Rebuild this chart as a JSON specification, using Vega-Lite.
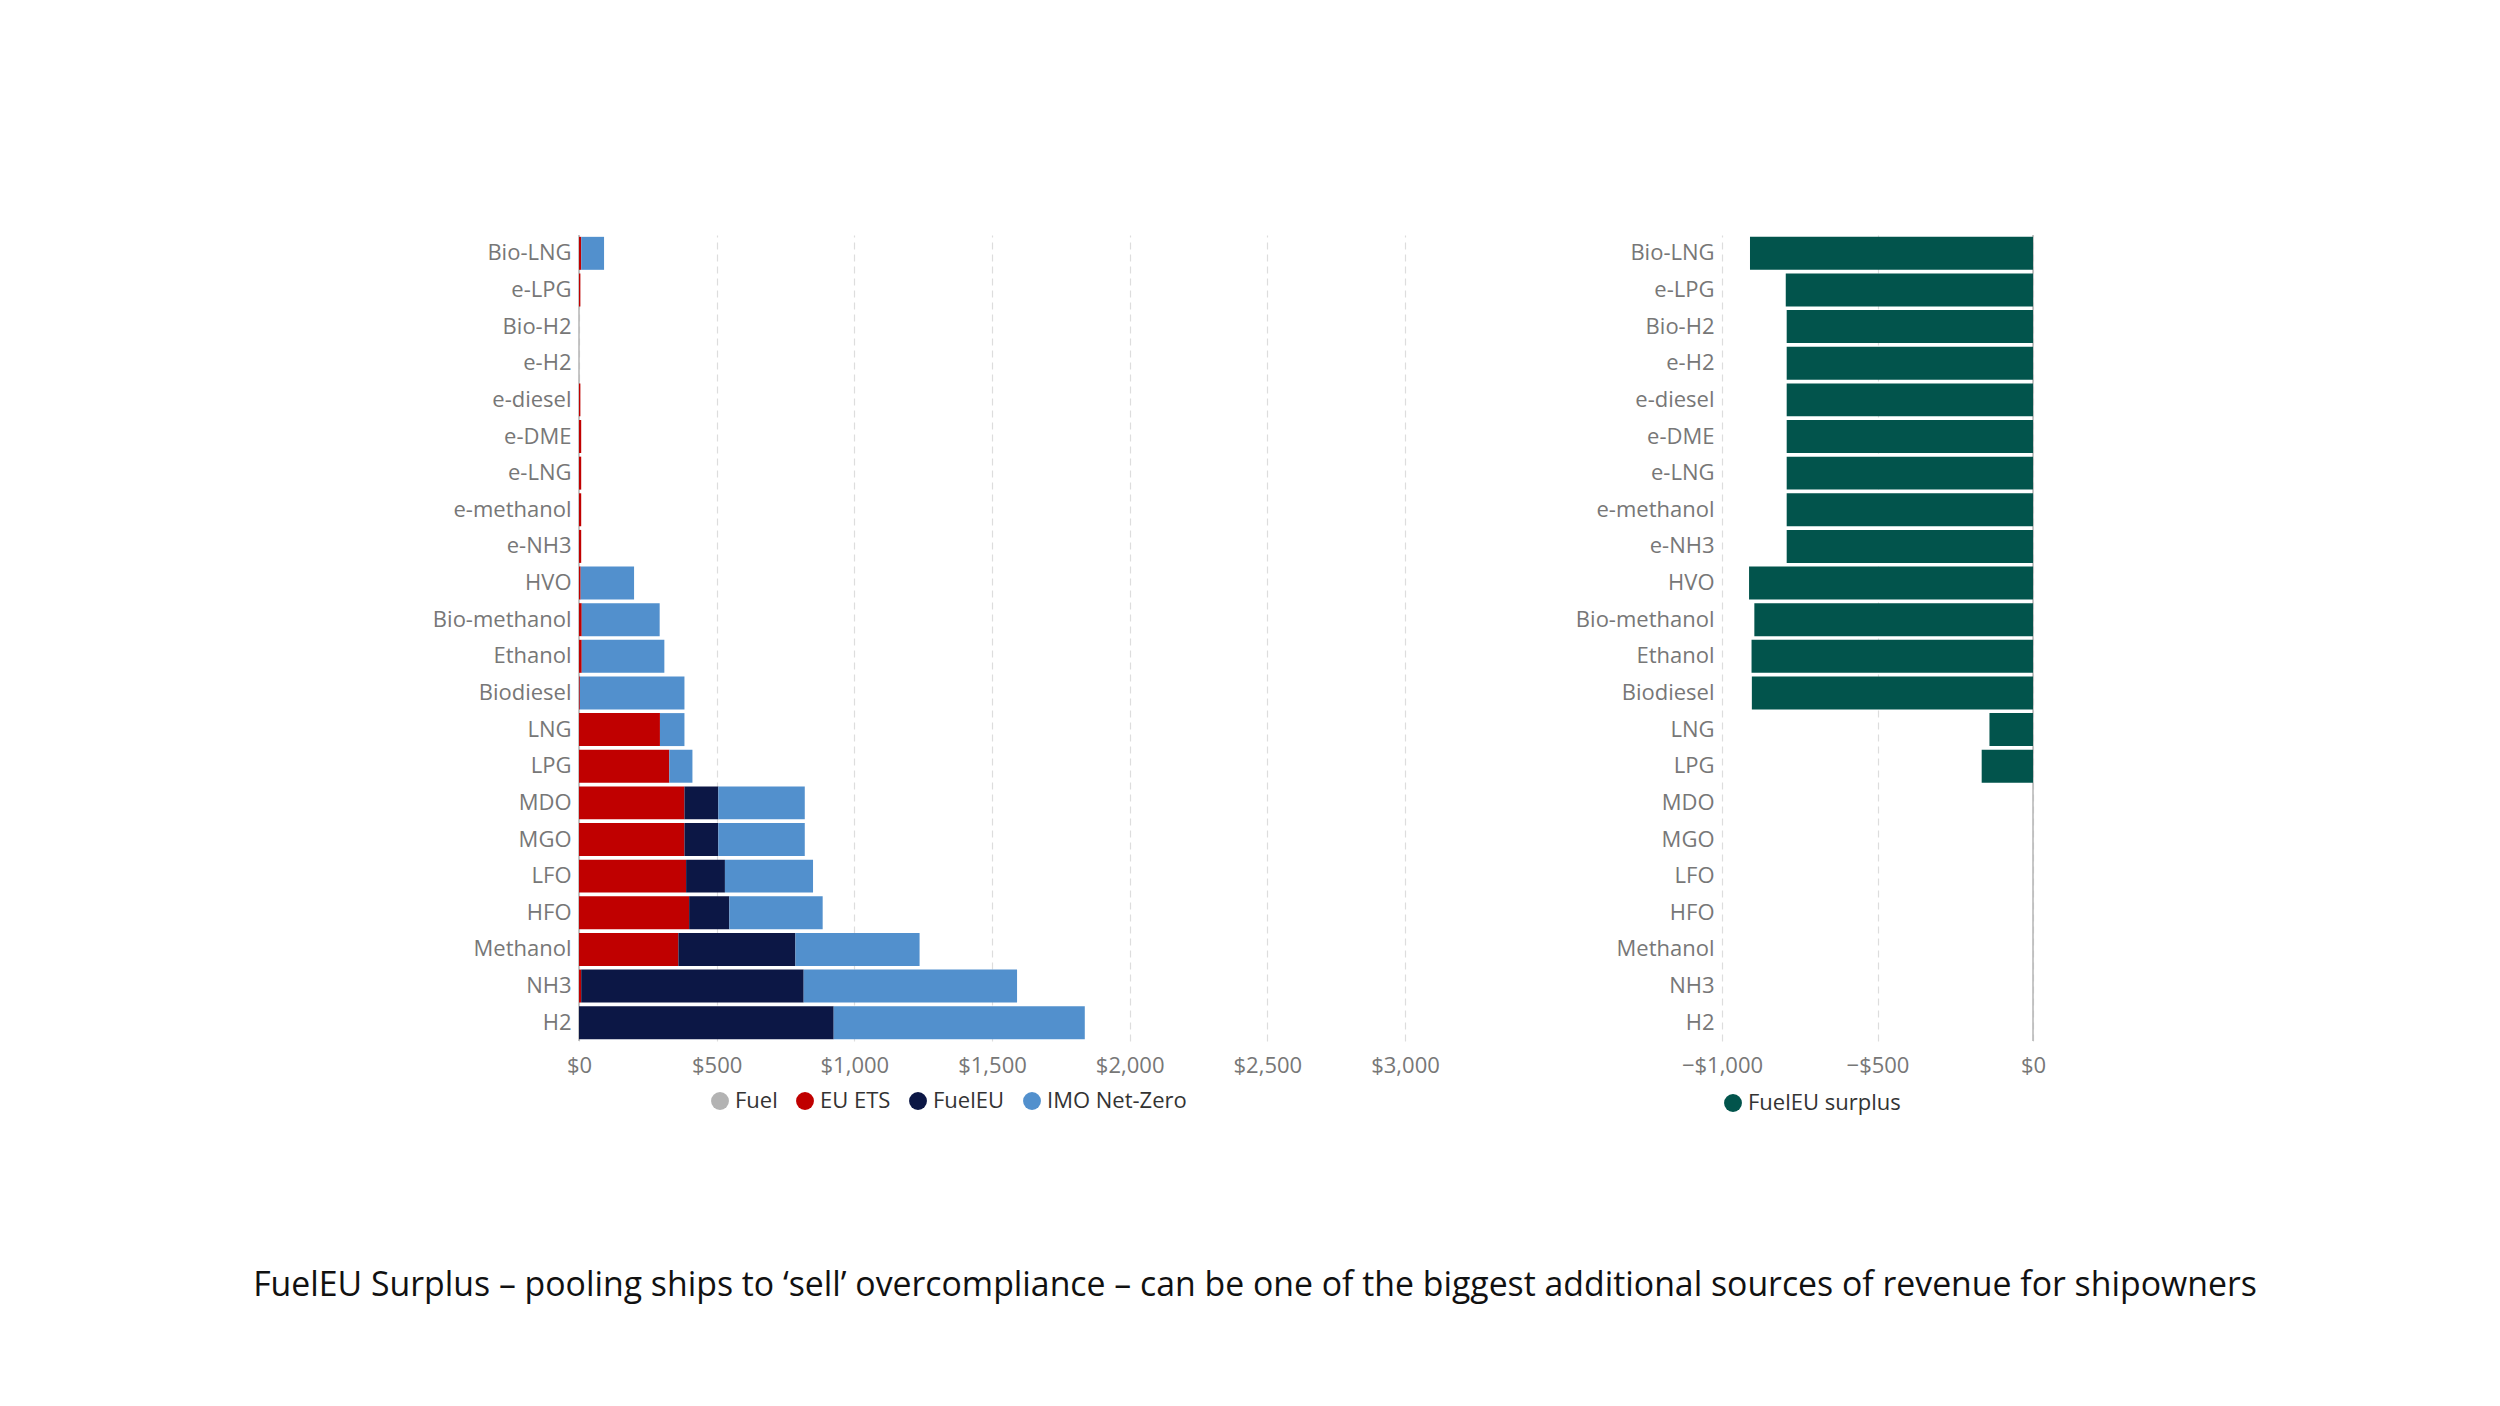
{
  "$schema": "https://vega.github.io/schema/vega-lite/v6.json",
  "autosize": {"type": "pad"},
  "padding": {"left": 253, "top": 234, "right": 20, "bottom": 20},
  "background": "white",
  "bounds": "flush",
  "spacing": 317,
  "title": {
    "text": "FuelEU Surplus – pooling ships to ‘sell’ overcompliance – can be one of the biggest additional sources of revenue for shipowners",
    "orient": "bottom",
    "anchor": "middle",
    "offset": 155,
    "dx": 16,
    "font": "Open Sans",
    "fontSize": 33.8,
    "fontWeight": "normal",
    "color": "#111111"
  },
  "datasets": {
    "costs": [
      {"fuel": "Bio-LNG", "component": "EU ETS", "value": 8},
      {"fuel": "Bio-LNG", "component": "IMO Net-Zero", "value": 83},
      {"fuel": "e-LPG", "component": "EU ETS", "value": 5},
      {"fuel": "e-diesel", "component": "EU ETS", "value": 5},
      {"fuel": "e-DME", "component": "EU ETS", "value": 8},
      {"fuel": "e-LNG", "component": "EU ETS", "value": 8},
      {"fuel": "e-methanol", "component": "EU ETS", "value": 8},
      {"fuel": "e-NH3", "component": "EU ETS", "value": 8},
      {"fuel": "HVO", "component": "EU ETS", "value": 6},
      {"fuel": "HVO", "component": "IMO Net-Zero", "value": 194},
      {"fuel": "Bio-methanol", "component": "EU ETS", "value": 10},
      {"fuel": "Bio-methanol", "component": "IMO Net-Zero", "value": 283},
      {"fuel": "Ethanol", "component": "EU ETS", "value": 10},
      {"fuel": "Ethanol", "component": "IMO Net-Zero", "value": 300},
      {"fuel": "Biodiesel", "component": "EU ETS", "value": 3},
      {"fuel": "Biodiesel", "component": "IMO Net-Zero", "value": 380},
      {"fuel": "LNG", "component": "EU ETS", "value": 294},
      {"fuel": "LNG", "component": "IMO Net-Zero", "value": 89},
      {"fuel": "LPG", "component": "EU ETS", "value": 328},
      {"fuel": "LPG", "component": "IMO Net-Zero", "value": 84},
      {"fuel": "MDO", "component": "EU ETS", "value": 383},
      {"fuel": "MDO", "component": "FuelEU", "value": 123},
      {"fuel": "MDO", "component": "IMO Net-Zero", "value": 314},
      {"fuel": "MGO", "component": "EU ETS", "value": 383},
      {"fuel": "MGO", "component": "FuelEU", "value": 123},
      {"fuel": "MGO", "component": "IMO Net-Zero", "value": 314},
      {"fuel": "LFO", "component": "EU ETS", "value": 389},
      {"fuel": "LFO", "component": "FuelEU", "value": 141},
      {"fuel": "LFO", "component": "IMO Net-Zero", "value": 320},
      {"fuel": "HFO", "component": "EU ETS", "value": 400},
      {"fuel": "HFO", "component": "FuelEU", "value": 146},
      {"fuel": "HFO", "component": "IMO Net-Zero", "value": 339},
      {"fuel": "Methanol", "component": "EU ETS", "value": 361},
      {"fuel": "Methanol", "component": "FuelEU", "value": 425},
      {"fuel": "Methanol", "component": "IMO Net-Zero", "value": 451},
      {"fuel": "NH3", "component": "EU ETS", "value": 8},
      {"fuel": "NH3", "component": "FuelEU", "value": 808},
      {"fuel": "NH3", "component": "IMO Net-Zero", "value": 775},
      {"fuel": "H2", "component": "FuelEU", "value": 925},
      {"fuel": "H2", "component": "IMO Net-Zero", "value": 912}
    ],
    "surplus": [
      {"fuel": "Bio-LNG", "surplus": -910},
      {"fuel": "e-LPG", "surplus": -795},
      {"fuel": "Bio-H2", "surplus": -792},
      {"fuel": "e-H2", "surplus": -792},
      {"fuel": "e-diesel", "surplus": -792},
      {"fuel": "e-DME", "surplus": -792},
      {"fuel": "e-LNG", "surplus": -792},
      {"fuel": "e-methanol", "surplus": -792},
      {"fuel": "e-NH3", "surplus": -792},
      {"fuel": "HVO", "surplus": -913},
      {"fuel": "Bio-methanol", "surplus": -896},
      {"fuel": "Ethanol", "surplus": -905},
      {"fuel": "Biodiesel", "surplus": -904},
      {"fuel": "LNG", "surplus": -140},
      {"fuel": "LPG", "surplus": -165}
    ]
  },
  "hconcat": [
    {
      "width": 826,
      "height": 806,
      "layer": [
        {
          "data": {"values": [{}]},
          "mark": {"type": "rule", "color": "#b5b5b5", "strokeWidth": 1.5},
          "encoding": {"x": {"datum": 0, "type": "quantitative"}}
        },
        {
          "data": {"name": "costs"},
          "mark": {"type": "bar"},
          "encoding": {
            "y": {
              "field": "fuel",
              "type": "nominal",
              "scale": {
                "domain": ["Bio-LNG", "e-LPG", "Bio-H2", "e-H2", "e-diesel", "e-DME", "e-LNG", "e-methanol", "e-NH3", "HVO", "Bio-methanol", "Ethanol", "Biodiesel", "LNG", "LPG", "MDO", "MGO", "LFO", "HFO", "Methanol", "NH3", "H2"],
                "paddingInner": 0.1,
                "paddingOuter": 0.05
              },
              "axis": {"title": null}
            },
            "x": {
              "field": "value",
              "type": "quantitative",
              "stack": "zero",
              "scale": {"domain": [0, 3000], "nice": false},
              "axis": {"title": null, "values": [0, 500, 1000, 1500, 2000, 2500, 3000], "format": "$,.0f"}
            },
            "color": {
              "field": "component",
              "type": "nominal",
              "sort": ["Fuel", "EU ETS", "FuelEU", "IMO Net-Zero"],
              "scale": {
                "domain": ["Fuel", "EU ETS", "FuelEU", "IMO Net-Zero"],
                "range": ["#b3b3b3", "#c00000", "#0c1745", "#5290cd"]
              },
              "legend": {"title": null, "orient": "none", "direction": "horizontal", "legendX": 130, "legendY": 855}
            }
          }
        }
      ]
    },
    {
      "width": 311,
      "height": 806,
      "layer": [
        {
          "data": {"values": [{}]},
          "mark": {"type": "rule", "color": "#b5b5b5", "strokeWidth": 1.5},
          "encoding": {"x": {"datum": 0, "type": "quantitative"}}
        },
        {
          "data": {"name": "surplus"},
          "mark": {"type": "bar", "color": "#02544c"},
          "encoding": {
            "y": {
              "field": "fuel",
              "type": "nominal",
              "scale": {
                "domain": ["Bio-LNG", "e-LPG", "Bio-H2", "e-H2", "e-diesel", "e-DME", "e-LNG", "e-methanol", "e-NH3", "HVO", "Bio-methanol", "Ethanol", "Biodiesel", "LNG", "LPG", "MDO", "MGO", "LFO", "HFO", "Methanol", "NH3", "H2"],
                "paddingInner": 0.1,
                "paddingOuter": 0.05
              },
              "axis": {"title": null}
            },
            "x": {
              "field": "surplus",
              "type": "quantitative",
              "scale": {"domain": [-1000, 0], "nice": false},
              "axis": {"title": null, "values": [-1000, -500, 0], "format": "$,.0f"}
            },
            "color": {
              "datum": "FuelEU surplus",
              "type": "nominal",
              "scale": {"range": ["#02544c"]},
              "legend": {"title": null, "orient": "none", "direction": "horizontal", "legendX": 0, "legendY": 857}
            }
          }
        }
      ]
    }
  ],
  "resolve": {
    "scale": {"x": "independent", "y": "independent", "color": "independent"},
    "legend": {"color": "independent"}
  },
  "config": {
    "view": {"stroke": null},
    "font": "Open Sans",
    "axis": {
      "labelFont": "Open Sans",
      "labelFontSize": 22,
      "labelColor": "#777777",
      "domain": false,
      "ticks": false
    },
    "axisX": {
      "grid": true,
      "gridColor": "#dddddd",
      "gridDash": [7, 5],
      "gridWidth": 1.2,
      "labelPadding": 14,
      "labelFlush": false
    },
    "axisY": {
      "grid": false,
      "labelPadding": 8
    },
    "legend": {
      "labelFont": "Open Sans",
      "labelFontSize": 22,
      "labelColor": "#333333",
      "symbolType": "circle",
      "symbolSize": 320,
      "symbolStrokeWidth": 0,
      "columnPadding": 16,
      "symbolOffset": 0
    }
  }
}
